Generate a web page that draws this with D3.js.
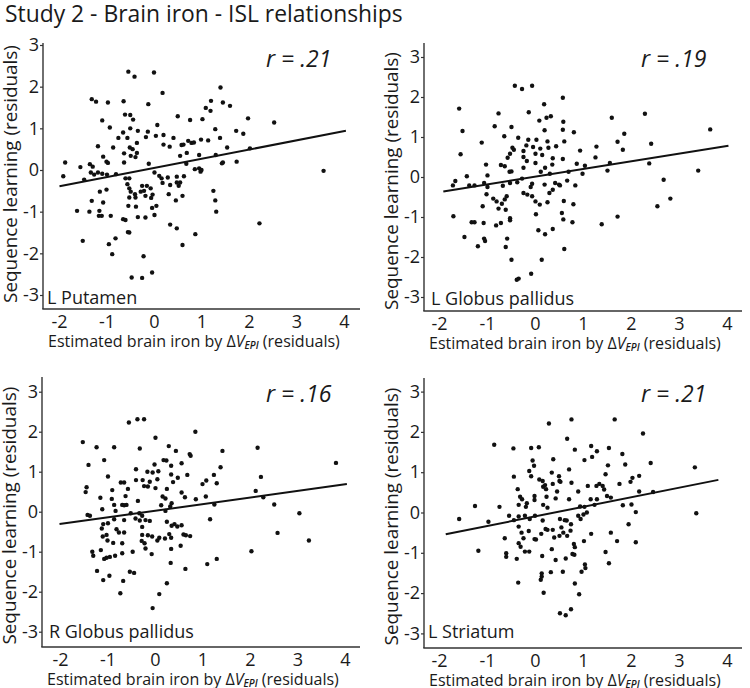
<!DOCTYPE html>
<html><head><meta charset="utf-8">
<script src="https://cdn.jsdelivr.net/npm/d3@7"></script>
<style>
body{margin:0;background:#fff}
svg{display:block}
text{font-family:"Open Sans","Noto Sans",sans-serif;fill:#1a1a1a}
</style>
</head><body>
<svg id="c" width="750" height="688"></svg>
<script>
// ---------------- data ----------------
const chartTitle = "Study 2 - Brain iron - ISL relationships";
const regions = ["L Putamen", "L Globus pallidus", "R Globus pallidus", "L Striatum"];
const rValues = [".21", ".19", ".16", ".21"];
const xTicks = [-2, -1, 0, 1, 2, 3, 4];
const yTicks = [-3, -2, -1, 0, 1, 2, 3];
const yTitle = "Sequence learning (residuals)";

// [estimated brain iron residual, sequence learning residual]
const lPutamen = [[-0.54,2.36],[-0.41,2.24],[0.00,2.34],[0.18,1.85],[-1.31,1.70],[-1.22,1.64],[-0.97,1.62],[-0.64,1.65],[-0.12,1.58],[-0.61,1.33],[-0.50,1.32],[-0.44,1.21],[0.50,1.29],[-1.09,1.19],[-0.93,1.02],[-0.50,1.00],[0.07,1.08],[-0.65,0.90],[-0.34,0.94],[-0.13,0.92],[0.20,0.84],[-0.75,0.77],[-0.56,0.77],[-0.17,0.79],[0.04,0.82],[0.41,0.77],[-1.18,0.57],[-0.86,0.54],[-0.51,0.54],[-0.45,0.50],[-0.36,0.65],[0.20,0.61],[0.33,0.56],[-0.63,0.40],[-0.36,0.41],[-0.49,0.34],[-1.07,0.32],[-1.87,0.18],[-1.55,0.07],[-1.00,0.20],[-0.97,0.17],[-0.39,0.31],[-0.11,0.15],[-0.63,0.18],[-1.35,0.14],[-1.29,0.08],
[-1.91,-0.15],[-1.47,-0.23],[-1.33,-0.06],[-1.26,-0.11],[-1.18,-0.06],[-1.09,-0.09],[-0.99,-0.11],[-0.80,-0.10],[-0.60,-0.20],[-0.52,-0.20],[0.01,-0.06],[0.11,-0.14],[0.16,-0.20],[0.29,-0.18],[0.48,-0.16],
[-0.56,-0.34],[-0.25,-0.38],[-0.21,-0.50],[-0.15,-0.38],[-0.07,-0.44],[0.18,-0.31],[0.34,-0.36],[0.48,-0.30],[0.52,-0.38],
[-1.14,-0.52],[-1.00,-0.47],[-0.52,-0.44],[-0.49,-0.52],[-0.40,-0.58],[-0.28,-0.52],[-0.18,-0.62],[-0.03,-0.59],[0.31,-0.58],
[-0.52,-0.66],[-0.39,-0.66],[-0.06,-0.67],[0.46,-0.73],[-1.31,-0.74],[-1.07,-0.78],[0.05,-0.86],
[-0.54,-0.86],[-0.38,-0.88],[-0.04,-0.91],[0.01,-1.08],[-1.15,-0.98],[-1.36,-1.00],[-1.62,-0.98],[-1.16,-1.10],[-1.10,-1.10],[-0.91,-1.10],[-0.65,-1.18],[-0.60,-1.20],[-0.18,-1.14],[-0.34,-1.13],
[0.34,-1.31],[0.48,-1.40],[-0.55,-1.49],[-0.52,-1.50],
[-1.50,-1.70],[-0.81,-1.64],[-0.95,-1.78],[-0.88,-2.02],[-0.22,-2.07],
[-0.47,-2.58],[-0.25,-2.59],[-0.04,-2.46],
[1.40,1.98],[1.20,1.66],[1.45,1.62],[1.60,1.54],[1.09,1.49],[1.19,1.42],[0.76,1.20],[1.02,1.22],[1.98,1.24],[2.53,1.14],[1.29,0.98],[1.73,0.94],[1.88,0.87],[1.39,0.77],[0.72,0.70],[0.62,0.61],[0.58,0.60],[0.79,0.65],[0.84,0.66],[0.99,0.73],[1.14,0.71],[1.54,0.54],[2.02,0.52],[0.69,0.41],[0.95,0.36],[1.30,0.36],[0.55,0.34],[0.68,0.15],[1.45,0.18],[1.43,0.16],[1.74,0.20],[0.86,0.02],[0.95,0.04],[0.98,-0.04],[1.00,0.00],[0.63,-0.15],[3.57,-0.02],[0.55,-0.30],[0.60,-0.62],[1.25,-0.50],[1.29,-0.73],[1.31,-1.00],[2.22,-1.28],[0.87,-1.54],[0.60,-1.80]];

const lGlobusPallidus = [[-0.42,2.28],[-0.27,2.20],[-0.06,2.28],[0.19,1.82],[-1.58,1.71],[-0.76,1.59],[-0.13,1.62],[0.33,1.52],[0.24,1.48],[0.09,1.41],[-1.51,1.15],[-0.84,1.27],[-0.49,1.25],[0.20,1.17],[-0.64,1.02],[-0.35,0.98],[-0.14,0.93],[0.03,0.93],[-1.11,0.86],[0.26,0.89],[0.44,0.77],[-0.47,0.73],[-0.44,0.68],[-0.18,0.79],[-0.04,0.75],[0.11,0.71],[0.28,0.73],[-0.52,0.58],[-0.57,0.48],[-0.24,0.65],[0.01,0.58],[0.15,0.55],[-0.24,0.50],[0.37,0.47],[-1.55,0.57],[-1.02,0.31],[-0.71,0.30],[-0.63,0.27],[-0.17,0.40],[0.01,0.35],[-0.24,0.23],[0.21,0.23],[0.36,0.31],[-1.42,0.02],[-0.99,0.04],[-0.49,0.14],[-0.53,0.13],[0.12,0.13],[0.31,0.08],
[-1.71,-0.21],[-1.66,-0.10],[-1.37,-0.21],[-1.26,-0.21],[-1.06,-0.15],[-0.99,-0.25],[-0.67,-0.22],[-0.52,-0.15],[-0.37,-0.13],[-0.27,-0.04],[-0.06,-0.17],[-0.09,-0.25],[0.20,-0.19],[0.42,-0.15],[0.50,-0.19],
[-1.01,-0.43],[-0.87,-0.54],[-0.80,-0.61],[-0.69,-0.67],[-0.63,-0.56],[-0.59,-0.48],[-0.24,-0.40],[-0.16,-0.44],[-0.06,-0.48],[0.01,-0.61],[0.10,-0.69],[0.26,-0.63],[0.30,-0.40],[0.37,-0.32],
[-1.09,-0.73],[-0.76,-0.79],[-0.61,-0.82],[0.02,-0.93],
[-1.70,-0.98],[-0.52,-1.03],[-0.52,-1.08],[-1.32,-1.13],[-1.26,-1.13],[-1.07,-1.15],[-0.81,-1.21],[-0.71,-1.15],
[0.07,-1.33],[0.21,-1.43],[0.37,-1.30],
[-1.47,-1.50],[-1.06,-1.54],[-1.04,-1.60],[-0.58,-1.54],[-1.19,-1.73],[-0.61,-1.75],
[-0.49,-2.07],[0.14,-2.07],
[-0.38,-2.57],[-0.34,-2.54],[-0.08,-2.42],
[0.58,1.98],[1.60,1.48],[2.29,1.58],[0.59,1.38],[0.58,1.18],[0.81,1.12],[3.65,1.19],[0.61,0.89],[1.86,1.08],[1.72,0.88],[2.42,0.83],[1.28,0.76],[1.83,0.68],[0.94,0.66],[1.26,0.49],[0.58,0.45],[1.56,0.35],[2.38,0.34],[0.87,0.33],[1.04,0.28],[0.70,0.13],[0.99,0.08],[1.51,0.16],[3.40,0.16],[0.52,-0.21],[0.67,-0.09],[0.84,-0.21],[2.68,-0.07],[0.60,-0.60],[0.80,-0.68],[2.82,-0.54],[2.55,-0.73],[0.56,-0.90],[0.59,-1.06],[0.78,-1.13],[1.39,-1.18],[1.72,-0.99],[0.61,-1.80]];

const rGlobusPallidus = [[-0.55,2.23],[-0.37,2.31],[-0.23,2.31],[0.01,1.85],[-1.52,1.74],[-1.23,1.61],[-0.86,1.61],[-0.32,1.58],[0.29,1.64],[0.44,1.52],[-1.07,1.29],[-1.40,1.17],[-0.01,1.18],[0.18,1.29],[0.24,1.28],[0.34,1.15],[-0.40,1.06],[-0.16,1.00],[-0.05,0.98],[0.07,1.01],[0.34,0.93],[-0.99,0.88],[0.05,0.81],[0.48,0.85],[-0.72,0.73],[-0.65,0.73],[-0.40,0.79],[-0.26,0.79],[-0.11,0.75],[0.38,0.74],[-1.44,0.61],[-1.46,0.49],[-0.90,0.54],[-0.57,0.57],[-0.23,0.64],[-0.15,0.63],[0.25,0.57],[0.01,0.59],[-1.15,0.35],[-0.62,0.39],[-0.91,0.32],[0.16,0.38],[0.22,0.33],[-0.36,0.27],[-1.11,0.06],[-0.86,0.17],[-0.69,0.17],[-0.65,0.16],[-0.60,0.17],[0.35,0.21],[0.13,0.16],[-1.42,-0.08],[-1.37,-0.10],[-0.83,0.02],[-0.51,-0.04],[-0.33,-0.04],[-0.27,-0.10],[0.22,0.02],[0.32,0.13],
[-1.09,-0.31],[-0.99,-0.29],[-0.86,-0.19],[-0.65,-0.21],[-0.41,-0.17],[-0.32,-0.22],[-0.20,-0.21],[-0.11,-0.23],[0.25,-0.25],[0.41,-0.31],
[-1.12,-0.42],[-0.81,-0.44],[-0.76,-0.52],[-0.65,-0.52],[-0.27,-0.38],[0.30,-0.56],[0.35,-0.35],[0.47,-0.37],
[-1.10,-0.62],[-1.02,-0.58],[-0.27,-0.58],[-0.15,-0.59],[-0.06,-0.62],[0.09,-0.65],[0.21,-0.67],[0.34,-0.65],
[-1.00,-0.72],[-0.88,-0.78],[-0.69,-0.79],[-0.28,-0.73],[-0.22,-0.79],[0.05,-0.72],
[-1.32,-1.00],[-1.30,-1.10],[-1.14,-0.96],[-1.07,-1.18],[-1.02,-1.15],[-0.95,-1.13],[-0.84,-1.10],[-0.69,-1.04],[-0.47,-1.00],[-0.20,-0.92],[-0.07,-1.06],[0.34,-0.93],
[0.33,-1.28],[-1.22,-1.48],[-1.09,-1.71],[-0.96,-1.60],[-0.53,-1.50],[-0.44,-1.53],[-0.67,-1.73],[0.25,-1.79],[0.09,-2.06],[-0.73,-2.04],[-0.05,-2.41],
[0.85,2.00],[2.16,1.60],[1.42,1.52],[0.73,1.44],[0.75,1.40],[0.56,1.21],[1.38,1.11],[3.81,1.22],[0.68,0.92],[1.24,0.92],[2.23,0.87],[1.08,0.78],[1.00,0.69],[1.30,0.71],[0.56,0.48],[0.63,0.36],[0.86,0.31],[1.07,0.38],[2.12,0.52],[2.28,0.36],[1.25,0.18],[2.51,0.18],[3.04,-0.04],[1.16,-0.19],[0.56,-0.34],[0.60,-0.57],[0.65,-0.59],[0.74,-0.61],[2.58,-0.53],[3.24,-0.72],[0.54,-0.85],[2.03,-0.99],[1.30,-1.18],[1.10,-1.31],[0.64,-1.43]];

const lStriatum = [[0.29,2.21],[-0.85,1.68],[-0.45,1.59],[-0.08,1.60],[0.08,1.62],[-0.05,1.29],[0.38,1.32],[-0.02,1.16],[-0.44,0.89],[-0.12,1.03],[-0.08,0.90],[0.09,0.82],[0.16,0.78],[0.35,0.99],[0.50,0.90],[0.51,0.78],[-0.36,0.58],[0.17,0.64],[0.21,0.68],[0.23,0.58],[0.37,0.71],[-0.31,0.39],[-0.27,0.33],[-0.01,0.41],[-0.01,0.31],[0.24,0.39],[0.43,0.35],[0.46,0.52],[-1.25,0.16],[-0.74,0.14],[-0.34,0.19],[-0.19,0.14],[-0.17,0.23],[0.17,0.19],[0.26,0.12],
[-1.58,-0.16],[-0.97,-0.23],[-0.54,-0.08],[-0.44,-0.19],[-0.34,-0.10],[-0.21,-0.08],[0.00,-0.08],[-0.11,-0.16],[0.16,-0.20],
[-0.63,-0.64],[-0.34,-0.35],[-0.28,-0.50],[-0.13,-0.46],[-0.01,-0.66],[0.02,-0.67],[0.13,-0.53],[0.22,-0.41],[0.26,-0.43],[0.40,-0.62],[0.51,-0.58],[0.37,-0.43],[-0.24,-0.64],
[-0.60,-1.01],[-0.60,-1.10],[-0.38,-1.15],[-0.34,-0.76],[-0.30,-0.85],[-0.21,-0.97],[-0.12,-0.97],[0.15,-1.08],[0.35,-0.91],[0.43,-1.18],[-1.18,-0.95],
[0.33,-1.48],[0.14,-1.51],[0.14,-1.59],[-0.35,-1.74],[0.12,-1.67],[0.18,-1.99],
[0.76,2.31],[1.66,2.31],[2.25,1.96],[0.67,1.83],[1.17,1.65],[0.83,1.56],[1.29,1.52],[1.54,1.60],[1.82,1.45],[1.03,1.30],[1.19,1.38],[1.88,1.19],[1.52,1.17],[2.41,1.23],[3.33,1.12],[0.71,1.07],[1.47,0.95],[0.53,0.76],[0.76,0.74],[2.03,0.86],[2.17,0.91],[1.99,0.76],[1.76,0.71],[1.10,0.66],[1.34,0.71],[1.41,0.66],[1.44,0.57],[1.28,0.66],[0.90,0.52],[2.17,0.52],[1.50,0.41],[1.58,0.37],[2.46,0.51],[0.71,0.33],[1.16,0.33],[1.29,0.33],[1.24,0.19],[0.94,0.15],[1.03,0.14],[1.83,0.18],[2.01,0.20],[1.08,0.00],[0.90,-0.08],[0.95,-0.16],[1.01,-0.05],[2.10,0.01],[3.36,-0.02],[0.52,-0.16],[0.62,-0.19],[0.66,-0.20],[0.75,-0.29],[0.55,-0.37],[0.59,-0.50],[0.67,-0.58],[0.74,-0.45],[1.17,-0.53],[1.58,-0.50],[1.95,-0.29],[1.02,-0.71],[1.71,-0.71],[2.10,-0.74],[0.81,-0.78],[0.83,-0.86],[0.78,-1.03],[0.82,-1.05],[1.47,-0.98],[1.54,-1.26],[0.64,-1.14],[1.04,-1.29],[1.05,-1.38],[0.97,-1.47],[0.58,-1.47],[0.83,-1.76],[0.92,-2.03],[0.52,-2.50],[0.64,-2.55],[0.75,-2.40]];

// regression line end points [xStart, yStart, xEnd, yEnd]
const fitLines = [[-1.99,-0.39,4.04,0.94],[-1.91,-0.36,4.03,0.78],[-2.01,-0.31,4.04,0.69],[-1.86,-0.54,3.82,0.81]];

const panelPoints = [lPutamen, lGlobusPallidus, rGlobusPallidus, lStriatum];

// ---------------- layout ----------------
const layout = [
  {xl:59, xr:344, yb:295, yt:45, ax:43, top:43, ay:309, right:360, rx:266, ry:67, lblDx:4, lblY:304},
  {xl:439, xr:727, yb:297, yt:57, ax:424, top:43, ay:311, right:742, rx:641, ry:67, lblDx:7, lblY:305},
  {xl:60, xr:345, yb:631.7, yt:391.7, ax:42, top:377, ay:647, right:360, rx:266, ry:402, lblDx:7, lblY:638},
  {xl:439, xr:727, yb:633.4, yt:391.6, ax:424, top:378, ay:648, right:742, rx:641, ry:402, lblDx:4, lblY:638}
];

const svg = d3.select("#c");
function fitWidth(sel, w){
  const L = sel.node().getComputedTextLength();
  const fs = parseFloat(sel.style("font-size"));
  sel.style("font-size", (fs * w / L) + "px");
}

const t = svg.append("text").attr("x",5).attr("y",22).style("font-size","22px").text(chartTitle);
fitWidth(t, 398);

regions.forEach((name, i) => {
  const L = layout[i];
  const x = d3.scaleLinear().domain([-2,4]).range([L.xl, L.xr]);
  const y = d3.scaleLinear().domain([-3,3]).range([L.yb, L.yt]);
  const g = svg.append("g");

  // axis lines
  g.append("line").attr("x1",L.ax).attr("x2",L.ax).attr("y1",L.top).attr("y2",L.ay)
    .attr("stroke","#333").attr("stroke-width",1.4);
  g.append("line").attr("x1",L.ax-0.7).attr("x2",L.right).attr("y1",L.ay).attr("y2",L.ay)
    .attr("stroke","#333").attr("stroke-width",1.4);

  const ya = g.append("g").attr("transform",`translate(${L.ax},0)`)
    .call(d3.axisLeft(y).tickValues(yTicks).tickSize(3).tickPadding(1).tickFormat(d => String(d)));
  ya.select(".domain").remove();
  ya.selectAll(".tick line").attr("stroke","#333").attr("stroke-width",1.2);
  ya.selectAll("text").attr("fill","#1a1a1a").style("font-size","18px");
  ya.attr("font-family",null).attr("font-size",null);

  const xa = g.append("g").attr("transform",`translate(0,${L.ay})`)
    .call(d3.axisBottom(x).tickValues(xTicks).tickSize(0).tickPadding(6).tickFormat(d => String(d)));
  xa.select(".domain").remove();
  xa.selectAll("text").attr("fill","#1a1a1a").style("font-size","18px");
  xa.attr("font-family",null).attr("font-size",null);

  // y title
  const yt = g.append("text")
    .attr("transform",`translate(${L.ax-26},${(L.yt+L.yb)/2+4}) rotate(-90)`)
    .attr("text-anchor","middle").style("font-size","17px").text(yTitle);
  fitWidth(yt, 258);

  // x title
  const xt = g.append("text").attr("x", L.ax+5).attr("y", L.ay+38).style("font-size","17px");
  xt.append("tspan").text("Estimated brain iron by Δ");
  xt.append("tspan").style("font-style","italic").text("V");
  xt.append("tspan").style("font-style","italic").style("font-weight","600").style("font-size","0.62em").attr("dy","0.25em").text("EPI");
  xt.append("tspan").attr("dy","-0.16em").text(" (residuals)");
  fitWidth(xt, 292);

  // region label
  g.append("text").attr("x", L.ax + L.lblDx).attr("y", L.lblY).style("font-size","18px").text(name);

  // r label
  g.append("text").attr("x", L.rx).attr("y", L.ry).style("font-size","23px").style("font-style","italic")
    .text("r = " + rValues[i]);

  // points
  g.append("g").selectAll("circle").data(panelPoints[i]).join("circle")
    .attr("cx", d => x(d[0])).attr("cy", d => y(d[1])).attr("r", 2.2).attr("fill","#111");

  // fit line
  const f = fitLines[i];
  g.append("line").attr("x1", x(f[0])).attr("y1", y(f[1])).attr("x2", x(f[2])).attr("y2", y(f[3]))
    .attr("stroke","#111").attr("stroke-width",2);
});
</script>
</body></html>
